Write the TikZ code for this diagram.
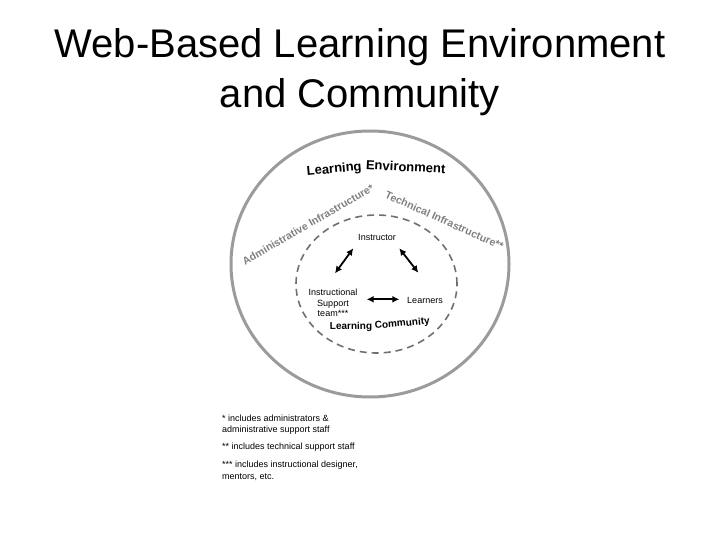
\documentclass[tikz,border=0pt]{standalone}
\usepackage{fontspec}
\setmainfont{Liberation Sans}
\usetikzlibrary{arrows.meta}
\definecolor{ringgray}{RGB}{155,155,155}
\definecolor{dashgray}{RGB}{112,112,112}
\definecolor{infragray}{RGB}{128,128,128}
\begin{document}
\begin{tikzpicture}[x=1pt,y=-1pt,
  titletext/.style={font=\fontsize{40}{48}\selectfont, anchor=base, inner sep=0pt},
  rolelabel/.style={font=\fontsize{9}{10.3}\selectfont, inner sep=0pt, align=center},
  notetext/.style={font=\fontsize{9}{11}\selectfont, anchor=base west, inner sep=0pt},
  envword/.style={font=\fontsize{13}{13}\selectfont\bfseries, anchor=base, inner sep=0pt},
  commword/.style={font=\fontsize{10}{10}\selectfont\bfseries, anchor=base, inner sep=0pt},
  infratext/.style={font=\fontsize{10.6}{10.6}\selectfont\bfseries, text=infragray, inner sep=0pt},
  envring/.style={draw=ringgray, line width=3pt},
  commring/.style={draw=dashgray, line width=1.6pt, dash pattern=on 7pt off 5pt},
  dblarrow/.style={line width=1.8pt, {Latex[length=7pt,width=7pt]}-{Latex[length=7pt,width=7pt]}}
]
\useasboundingbox (0,0) rectangle (720,540);

% title
\node[titletext] (t1) at (360,58) {Web-Based Learning Environment};
\node[titletext] (t2) at (360,108) {and Community};

% rings
\draw[envring] (370,264) ellipse [x radius=139pt, y radius=133pt];
\draw[commring] (376.5,284) ellipse [x radius=80.5pt, y radius=69pt];

% ring labels
\node[envword, rotate=5] (le1) at (334.5,173) {Learning};
\node[envword, rotate=-3] (le2) at (405.5,171.5) {Environment};
\node[infratext, rotate=30] (admin) at (308,224.5) {Administrative Infrastructure*};
\node[infratext, rotate=-24.1] (tech) at (444.5,220.5) {Technical Infrastructure**};
\node[commword, rotate=1] (lc1) at (351,329.5) {Learning};
\node[commword, rotate=5] (lc2) at (402.5,326.5) {Community};

% roles
\node[rolelabel] (instr) at (377,237) {Instructor};
\node[rolelabel] (support) at (333,303) {Instructional\\Support\\team***};
\node[rolelabel] (learn) at (425,300.5) {Learners};

% arrow ends
\coordinate (la1) at (353.3,248.3);
\coordinate (la2) at (335,273.3);
\coordinate (ra1) at (399.3,248.3);
\coordinate (ra2) at (418.3,272.7);
\coordinate (ha1) at (366.7,299.3);
\coordinate (ha2) at (399.3,299.3);
\draw[dblarrow] (la1) -- (la2);
\draw[dblarrow] (ra1) -- (ra2);
\draw[dblarrow] (ha1) -- (ha2);

% footnotes
\node[notetext] (n1) at (222,421) {* includes administrators \&};
\node[notetext] (n2) at (222,432.5) {administrative support staff};
\node[notetext] (n3) at (222,449) {** includes technical support staff};
\node[notetext] (n4) at (222,467) {*** includes instructional designer,};
\node[notetext] (n5) at (222,479) {mentors, etc.};
\end{tikzpicture}
\end{document}
